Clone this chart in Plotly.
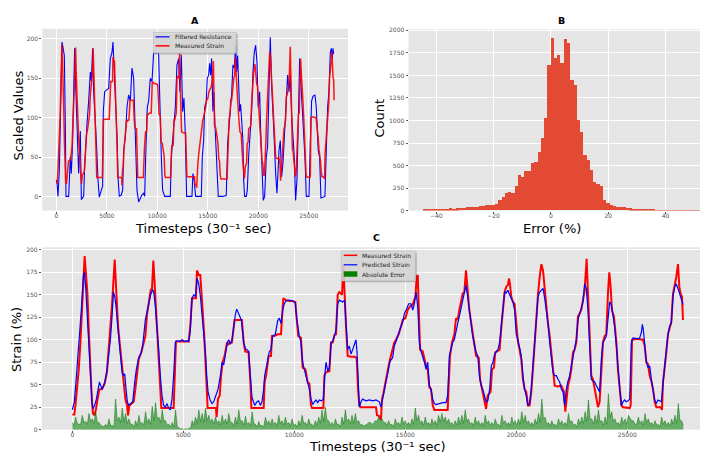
import plotly.graph_objects as go

W, H = 708, 453
def px(x): return x / W
def py(y): return 1 - y / H

# ---------------- data ----------------
# Measured strain (%) : (timestep, value)
measured_strain = [
 (0,17),(90,17),(140,27),(290,67),(365,97),(440,133),(510,170),(555,193),(615,173),(680,151),(740,111),(810,67),
 (885,31),(930,18),(1005,16),(1065,23),(1140,34),(1215,45),(1335,45),(1455,51),(1560,64),(1640,86),(1715,115),
 (1790,140),(1865,170),(1910,189),(1970,159),(2060,115),(2165,89),(2270,60),(2315,56),(2390,34),(2465,27),(2510,16),
 (2570,27),(2690,29),(2765,31),(2840,45),(2915,60),(2990,78),(3110,86),(3215,97),(3290,104),(3365,128),(3440,140),
 (3530,155),(3590,157),(3650,188),(3710,162),(3770,133),(3860,100),(3920,71),(3980,45),(4010,24),(4565,24),(4610,60),
 (4670,98),(5240,98),(5315,115),(5390,146),(5570,146),(5615,177),(5690,172),(5765,172),(5810,151),(5870,133),
 (5945,104),(5990,78),(6050,45),(6095,24),(6470,24),(6500,14),(6560,34),(6640,38),(6700,60),(6770,75),(6860,82),
 (6970,97),(7040,95),(7120,97),(7190,97),(7310,122),(7640,122),(7720,97),(7790,87),(7940,86),(8020,53),(8065,24),
 (8620,24),(8665,53),(8725,60),(8800,75),(8845,82),(8950,82),(8995,104),(9100,104),(9250,106),(9400,106),(9445,126),
 (9505,146),(9625,144),(9775,143),(9925,143),(10045,142),(10105,124),(10180,104),(10300,102),(10375,69),(10500,67),
 (10600,53),(10680,51),(10750,27),(10800,24),(11310,24),(11355,60),(11430,64),(11580,65),(11655,97),(11730,97),
 (11805,105),(11880,106),(11955,150),(12030,153),(12150,150),(12210,183),(12270,144),(12330,115),(12405,82),
 (12555,81),(12705,81),(12810,80),(12870,45),(12930,27),(12990,25),(13680,25),(13725,16),(13830,15),(13905,11),
 (13950,34),(14010,40),(14100,53),(14160,60),(14220,67),(14310,78),(14400,86),(14505,97),(14580,100),(14700,106),
 (14810,115),(14885,122),(15005,124),(15110,133),(15215,137),(15335,139),(15455,148),(15515,170),(15560,172),
 (15605,133),(15665,89),(15785,87),(15860,78),(15935,71),(16010,67),(16085,47),(16160,45),(16235,27),(16310,22),
 (16910,22),(16955,49),(17015,82),(17105,97),(17210,106),(17285,124),(17360,122),(17435,133),(17585,151),(17660,153),
 (17735,177),(17810,155),(17885,133),(18005,113),(18110,93),(18190,82),(18310,80),(18370,56),(18460,45),(18565,31),
 (18640,23),(18715,38),(18845,42),(18905,67),(18995,69),(19055,86),(19250,89),(19325,113),(19400,133),(19475,153),
 (19550,159),(19625,161),(19670,168),(19715,162),(19775,148),(19850,142),(19925,140),(20000,118),(20075,97),
 (20150,89),(20225,78),(20300,56),(20375,45),(20450,42),(20525,27),(20600,27),(20675,42),(20750,67),(20830,100),
 (20905,126),(20980,151),(21055,170),(21130,184),(21205,177),(21280,155),(21355,139),(21430,118),(21505,104),
 (21580,82),(21655,67),(21730,49),(21880,48),(22030,49),(22105,45),(22150,42),(22210,20),(22270,34),(22330,49),
 (22405,56),(22480,67),(22555,86),(22630,89),(22705,97),(22780,126),(22855,129),(22930,133),(23005,144),(23080,155),
 (23125,173),(23170,190),(23230,151),(23305,97),(23380,60),(23455,56),(23530,45),(23605,34),(23680,25),(23755,31),
 (23830,67),(23905,97),(23980,104),(24055,106),(24130,151),(24190,175),(24250,159),(24310,133),(24400,126),
 (24510,97),(24580,67),(24660,49),(24735,27),(24810,25),(25110,24),(25155,27),(25215,100),(25410,101),(25710,100),
 (25785,93),(25860,75),(25935,73),(26010,60),(26085,54),(26160,45),(26235,31),(26310,25),(26505,25),(26565,22),
 (26610,53),(26685,67),(26760,86),(26835,106),(26910,115),(26985,120),(27060,151),(27135,159),(27210,170),
 (27285,184),(27345,159),(27405,151),(27465,148),(27510,122),
]

# Predicted strain (%) : (timestep, value)
predicted_strain = [
 (0,22),(90,31),(165,53),(285,89),(405,133),(495,170),(540,175),(600,159),(660,133),(735,97),(810,60),(885,31),
 (930,23),(1005,27),(1085,34),(1160,45),(1220,53),(1280,49),(1340,45),(1415,49),(1490,56),(1565,67),(1640,82),
 (1715,100),(1790,126),(1850,153),(1910,148),(1970,137),(2060,111),(2150,89),(2240,64),(2300,60),(2360,62),
 (2420,45),(2480,31),(2540,27),(2630,29),(2720,31),(2810,53),(2885,67),(2990,80),(3110,86),(3185,97),(3290,122),
 (3365,131),(3440,140),(3530,150),(3620,156),(3680,151),(3740,137),(3830,111),(3890,89),(3965,60),(4040,38),
 (4115,27),(4190,25),(4265,29),(4340,24),(4415,22),(4490,34),(4565,60),(4640,97),(4715,99),(4820,98),(4940,100),
 (5060,98),(5170,99),(5245,98),(5305,108),(5395,146),(5470,150),(5545,148),(5620,168),(5695,162),(5770,148),
 (5845,129),(5920,111),(5995,86),(6055,60),(6115,42),(6205,33),(6295,29),(6370,31),(6445,36),(6565,45),(6670,60),
 (6745,75),(6820,72),(6895,86),(6985,97),(7045,100),(7120,95),(7195,100),(7270,115),(7345,128),(7405,134),
 (7495,128),(7615,122),(7720,97),(7795,90),(7870,89),(7945,87),(8020,60),(8095,36),(8215,27),(8320,31),(8395,32),
 (8470,27),(8545,31),(8620,45),(8665,60),(8725,67),(8800,75),(8875,87),(8950,89),(9025,104),(9145,106),(9250,121),
 (9325,124),(9400,118),(9475,133),(9550,140),(9625,143),(9775,144),(9925,143),(10045,141),(10105,124),(10165,111),
 (10225,104),(10300,97),(10375,75),(10450,67),(10525,60),(10600,53),(10680,45),(10750,34),(10830,28),(10905,31),
 (10980,33),(11055,30),(11130,33),(11220,32),(11310,34),(11370,60),(11430,75),(11505,65),(11580,69),(11655,97),
 (11730,98),(11805,104),(11880,111),(11955,140),(12030,144),(12180,142),(12270,144),(12330,118),(12405,89),
 (12480,93),(12555,84),(12630,89),(12705,95),(12780,100),(12825,86),(12870,53),(12930,25),(13005,31),(13080,34),
 (13230,32),(13380,33),(13530,32),(13680,33),(13830,31),(13905,25),(13980,34),(14055,42),(14130,53),(14205,62),
 (14310,76),(14430,80),(14505,93),(14610,100),(14700,108),(14810,115),(14885,120),(14960,129),(15035,133),
 (15155,140),(15260,140),(15335,133),(15410,140),(15485,153),(15560,137),(15635,97),(15710,87),(15785,82),
 (15860,75),(15935,67),(16010,75),(16085,49),(16160,45),(16235,34),(16310,29),(16385,28),(16535,29),(16685,30),
 (16835,30),(16910,38),(16985,82),(17060,89),(17135,97),(17210,100),(17285,111),(17360,118),(17435,126),(17585,142),
 (17660,150),(17735,161),(17810,148),(17885,133),(17960,115),(18035,104),(18110,95),(18190,86),(18265,82),
 (18340,60),(18415,49),(18490,45),(18565,38),(18640,31),(18715,32),(18800,45),(18875,71),(18950,75),(19025,84),
 (19100,87),(19175,89),(19250,97),(19325,115),(19400,137),(19475,153),(19550,152),(19625,155),(19700,150),
 (19775,146),(19850,142),(19925,133),(20000,106),(20075,100),(20150,89),(20225,82),(20300,60),(20375,45),
 (20450,38),(20525,27),(20600,29),(20675,45),(20750,71),(20830,97),(20905,122),(20980,148),(21055,153),(21130,155),
 (21205,157),(21280,146),(21355,133),(21430,118),(21505,97),(21580,78),(21655,64),(21730,60),(21805,60),(21880,56),
 (21955,53),(22030,45),(22105,42),(22180,27),(22255,45),(22330,54),(22405,60),(22480,71),(22555,82),(22630,89),
 (22705,100),(22780,122),(22855,129),(22930,133),(23005,142),(23080,162),(23155,157),(23230,133),(23305,97),
 (23380,56),(23455,54),(23530,53),(23605,49),(23680,45),(23755,42),(23830,78),(23905,97),(23980,100),(24055,104),
 (24130,122),(24205,142),(24280,139),(24355,126),(24430,115),(24510,93),(24580,67),(24660,45),(24735,27),
 (24810,31),(24885,33),(24960,31),(25035,32),(25110,34),(25185,97),(25260,102),(25485,101),(25560,102),(25635,108),
 (25680,117),(25725,111),(25785,97),(25860,75),(25935,69),(26010,71),(26085,56),(26160,45),(26235,33),(26310,29),
 (26385,33),(26535,31),(26610,53),(26685,71),(26760,89),(26835,106),(26910,115),(26985,118),(27060,148),
 (27135,159),(27210,162),(27285,157),(27360,150),(27435,144),(27510,139),
]

# Filtered resistance (scaled) : (timestep, value)
filtered_resistance = [
 (0,21),(70,17),(170,0),(300,33),(400,92),(500,167),(565,196),(630,192),(730,183),(795,179),(895,92),(960,0),
 (1225,0),(1390,50),(1490,29),(1620,71),(1720,133),(1820,188),(1885,154),(1985,113),(2080,71),(2215,29),(2280,50),
 (2380,83),(2480,-4),(2710,0),(2810,38),(2940,79),(3040,92),(3205,121),(3370,158),(3470,146),(3600,188),(3700,133),
 (3865,100),(3965,71),(4130,21),(4260,-1),(4460,8),(4590,13),(4655,108),(4790,133),(4955,135),(5185,137),(5350,175),
 (5515,183),(5615,196),(5680,179),(5780,154),(5910,113),(6040,67),(6110,25),(6240,0),(6440,2),(6570,8),(6670,58),
 (6835,75),(7000,113),(7165,129),(7330,121),(7495,163),(7660,150),(7760,113),(7890,71),(7990,8),(8155,-7),(8485,2),
 (8650,4),(8750,0),(8880,63),(9010,113),(9145,121),(9310,150),(9475,146),(9640,182),(10130,182),(10300,79),
 (10400,50),(10530,8),(10730,0),(11290,0),(11390,50),(11520,71),(11785,113),(11950,167),(12115,175),(12245,133),
 (12380,180),(12510,108),(12640,125),(12775,79),(12905,0),(13435,0),(13530,29),(13650,21),(13800,0),(14360,0),
 (14460,50),(14590,71),(14690,113),(14850,121),(14950,150),(15085,154),(15185,169),(15280,154),(15380,175),
 (15510,108),(15610,133),(15710,92),(15840,58),(15940,25),(16040,0),(16500,0),(16830,1),(16965,67),(17100,92),
 (17230,113),(17360,129),(17490,167),(17625,163),(17760,192),(17855,158),(17955,179),(18055,125),(18155,108),
 (18250,117),(18350,92),(18480,71),(18550,21),(18650,0),(18815,0),(18915,8),(19045,50),(19210,79),(19340,108),
 (19475,158),(19605,183),(19740,192),(19870,171),(20000,113),(20135,133),(20265,71),(20400,21),(20495,-5),
 (20630,0),(20795,50),(20925,63),(21060,150),(21190,202),(21320,142),(21455,113),(21585,71),(21720,29),(21850,4),
 (21980,38),(22050,58),(22180,71),(22310,25),(22445,42),(22640,92),(22775,133),(22905,154),(23040,133),(23170,154),
 (23300,104),(23435,71),(23565,50),(23700,-5),(23830,21),(23960,92),(24095,175),(24225,142),(24360,113),(24490,71),
 (24620,50),(24755,0),(25020,0),(25150,67),(25280,121),(25415,127),(25610,129),(25745,113),(25845,92),(25940,58),
 (26075,50),(26205,-2),(26600,0),(26735,58),(26865,113),(27000,133),(27135,183),(27235,188),(27330,175),
 (27400,188),(27460,181),
]

# Absolute error (%): spike level every 150 timesteps (at 0,150,...) and
# the dense base level between them (at 75,225,...)
abs_error_step = 150
abs_error_peaks = [
 8,14,6,16,9,18,12,20,8,4, 6,12,5,34,14,24,18,12,6,10, 16,8,20,12,26,30,14,22,10,6,
 8,22,2,1,1,2,10,14,22,18, 24,16,12,14,10,16,12,18,8,14, 22,10,15,8,20,6,9,5,14,10,
 12,8,16,10,14,8,12,6,10,16, 8,12,6,10,14,22,25,10,8,12, 6,14,22,12,16,18,10,6,5,8,
 6,10,14,12,8,10,6,12,8,14, 10,8,12,24,16,10,14,8,12,10, 16,18,14,12,8,10,14,16,22,12,
 8,14,10,8,16,
 10,8,12,6,16,10,8,14,10,12, 20,16,10,8,12,18,34,14,8,10, 6,12,10,8,18,10,6,12,14,20,
 33,12,16,22,10,14,40,20,12,8, 14,12,16,10,6,14,10,18,12,8, 10,6,14,10,8,12,16,29,10,
]
abs_error_base = [
 5,7,6,8,6,9,7,8,5,3, 3,4,3,10,8,9,7,6,3,4, 6,5,8,6,10,12,8,10,5,3,
 3,4,1,0,0,1,5,7,9,8, 10,8,6,7,5,7,6,8,4,6, 9,5,6,4,7,3,4,3,6,5,
 6,4,7,5,6,4,5,3,5,7, 4,6,3,5,7,9,10,5,4,6, 3,6,9,6,7,8,5,4,6,8,
 7,9,10,8,5,5,3,6,4,6, 5,4,6,10,7,5,6,4,6,5, 8,9,7,6,4,5,6,7,9,6,
 4,6,5,4,7,
 5,4,6,3,7,5,4,6,5,6, 8,7,5,4,6,8,12,6,4,5, 3,6,5,4,8,5,3,6,7,9,
 12,6,7,9,5,6,14,9,6,4, 7,6,12,10,6,7,5,8,6,4, 5,3,6,5,4,6,7,10,5,
]

# Error histogram (%): bin edges start / width, counts per bin
err_bin_start = -44.8
err_bin_width = 1.142
err_counts = [
 12,18,14,20,18,16,20,18,22,20, 22,28,30,36,33,36,40,45,52,55,
 58,62,75,110,150,190,205,195,275,395, 375,435,435,525,535,650,800,1020,1615,1915,
 1690,1720,1640,1905,1855,1450,1395,1000,870,615, 555,450,310,290,270,115,80,55,45,40,
 35,32,28,22,18,15,12,10,8,6, 5,4,3,3,2,2,4,2,1,3, 1,1,2,1,1,
]

# ---------------- figure ----------------
fig = go.Figure()

# Panel A
fig.add_trace(go.Scatter(
    x=[p[0] for p in filtered_resistance], y=[p[1] for p in filtered_resistance],
    mode="lines", line=dict(color="#0000FF", width=1.1), xaxis="x", yaxis="y",
    name="Filtered Resistance", showlegend=False))
fig.add_trace(go.Scatter(
    x=[p[0] for p in measured_strain], y=[p[1] for p in measured_strain],
    mode="lines", line=dict(color="#FF0000", width=1.5), opacity=0.9, xaxis="x", yaxis="y",
    name="Measured Strain", showlegend=False))

# Panel B
centers = [err_bin_start + err_bin_width * (i + 0.5) for i in range(len(err_counts))]
fig.add_trace(go.Bar(
    x=centers, y=err_counts, width=err_bin_width,
    marker=dict(color="#E24A33", line=dict(width=0)),
    xaxis="x2", yaxis="y2", showlegend=False))

# Panel C
err_x, err_y = [], []
for i, (pk, bs) in enumerate(zip(abs_error_peaks, abs_error_base)):
    err_x += [abs_error_step * i, abs_error_step * i + abs_error_step / 2]
    err_y += [pk, bs]

fig.add_trace(go.Scatter(
    x=[p[0] for p in measured_strain], y=[p[1] for p in measured_strain],
    mode="lines", line=dict(color="#FF0000", width=2), xaxis="x3", yaxis="y3",
    name="Measured Strain", showlegend=False))
fig.add_trace(go.Scatter(
    x=[p[0] for p in predicted_strain], y=[p[1] for p in predicted_strain],
    mode="lines", line=dict(color="#0000FF", width=1.2), xaxis="x3", yaxis="y3",
    name="Predicted Strain", showlegend=False))
fig.add_trace(go.Scatter(
    x=err_x, y=err_y,
    mode="lines", fill="tozeroy", fillcolor="rgba(0,128,0,0.55)",
    line=dict(color="rgba(0,115,0,0.8)", width=0.6), xaxis="x3", yaxis="y3",
    name="Absolute Error", showlegend=False))

FONT = "DejaVu Sans"
tickfont = dict(family=FONT, size=6, color="#555555")
base_ax = dict(showgrid=True, gridcolor="white", gridwidth=0.8, zeroline=False, showline=False,
               ticks="outside", ticklen=2, tickwidth=0.8, tickcolor="#555555", tickfont=tickfont,
               tickformat="d")
x_ax = dict(base_ax, ticklabelstandoff=-3)

fig.update_layout(
    width=W, height=H, autosize=False,
    margin=dict(l=0, r=0, t=0, b=0),
    paper_bgcolor="white", plot_bgcolor="#E5E5E5",
    bargap=0, showlegend=False,
    font=dict(family=FONT),
    xaxis=dict(x_ax, domain=[px(34.4), px(340.0)], range=[-1375, 28885],
               tickvals=[0, 5000, 10000, 15000, 20000, 25000], anchor="y"),
    yaxis=dict(base_ax, domain=[py(202.2), py(18)], range=[-17.9, 212.9],
               tickvals=[0, 50, 100, 150, 200], anchor="x"),
    xaxis2=dict(x_ax, domain=[px(400.5), px(706.5)], range=[-49.7, 57.1],
                tickvals=[-40, -20, 0, 20, 40], anchor="y2"),
    yaxis2=dict(base_ax, domain=[py(202.3), py(18.5)], range=[0, 2012],
                tickvals=[0, 250, 500, 750, 1000, 1250, 1500, 1750, 2000], anchor="x2"),
    xaxis3=dict(x_ax, domain=[px(33.8), px(705.5)], range=[-1375, 28885],
                tickvals=[0, 5000, 10000, 15000, 20000, 25000], anchor="y3"),
    yaxis3=dict(base_ax, domain=[py(424.3), py(239.5)], range=[0, 202.7],
                tickvals=[0, 25, 50, 75, 100, 125, 150, 175, 200], anchor="x3"),
)

ann = []
def text(x, y, s, size, angle=0, bold=False, color="#000000", xanchor="center"):
    ann.append(dict(x=px(x), y=py(y), xref="paper", yref="paper", text=("<b>%s</b>" % s) if bold else s,
                    showarrow=False, textangle=angle, xanchor=xanchor, yanchor="middle", borderpad=0,
                    font=dict(family=FONT, size=size, color=color)))

# titles
text(187, 9.3, "A", 9.5, bold=True)
text(553, 9.3, "B", 9.5, bold=True)
text(368, 230, "C", 9.5, bold=True)
# axis labels
text(195.5, 220, "Timesteps (30⁻¹ sec)", 13)
text(11, 106, "Scaled Values", 13, angle=-90)
text(543.8, 220.5, "Error (%)", 13)
text(372, 109, "Count", 13, angle=-90)
text(8.5, 333, "Strain (%)", 13, angle=-90)
text(369.5, 441, "Timesteps (30⁻¹ sec)", 13)

shapes = []
def legend_box(x0, y0, x1, y1):
    shapes.append(dict(type="rect", xref="paper", yref="paper", x0=px(x0 + 1.5), x1=px(x1 + 1.5),
                       y0=py(y1 + 1.5), y1=py(y0 + 1.5), fillcolor="rgba(0,0,0,0.22)", line=dict(width=0)))
    shapes.append(dict(type="rect", xref="paper", yref="paper", x0=px(x0), x1=px(x1),
                       y0=py(y1), y1=py(y0), fillcolor="rgba(218,218,218,0.85)",
                       line=dict(color="#BDBDBD", width=0.8)))
def legend_line(x0, x1, y, color, width):
    shapes.append(dict(type="line", xref="paper", yref="paper", x0=px(x0), x1=px(x1), y0=py(y), y1=py(y),
                       line=dict(color=color, width=width)))

# legend A
legend_box(145.7, 21.7, 228.3, 42.7)
legend_line(147.5, 161.5, 26.2, "#0000FF", 1.2)
legend_line(147.5, 161.5, 35.3, "#FF0000", 1.5)
text(165.5, 26.2, "Filtered Resistance", 6, color="#222222", xanchor="left")
text(165.5, 35.3, "Measured Strain", 6, color="#222222", xanchor="left")

# legend C
legend_box(333.3, 243.3, 407.3, 273.5)
legend_line(335.7, 349.3, 247.6, "#FF0000", 1.5)
legend_line(335.7, 349.3, 257.2, "#0000FF", 1.2)
shapes.append(dict(type="rect", xref="paper", yref="paper", x0=px(335.7), x1=px(349.3),
                   y0=py(269.3), y1=py(263.8), fillcolor="#008000", line=dict(width=0)))
text(352.7, 247.6, "Measured Strain", 6, color="#222222", xanchor="left")
text(352.7, 257.2, "Predicted Strain", 6, color="#222222", xanchor="left")
text(352.7, 266.6, "Absolute Error", 6, color="#222222", xanchor="left")

fig.update_layout(annotations=ann, shapes=shapes)
fig.write_html("out.html")
